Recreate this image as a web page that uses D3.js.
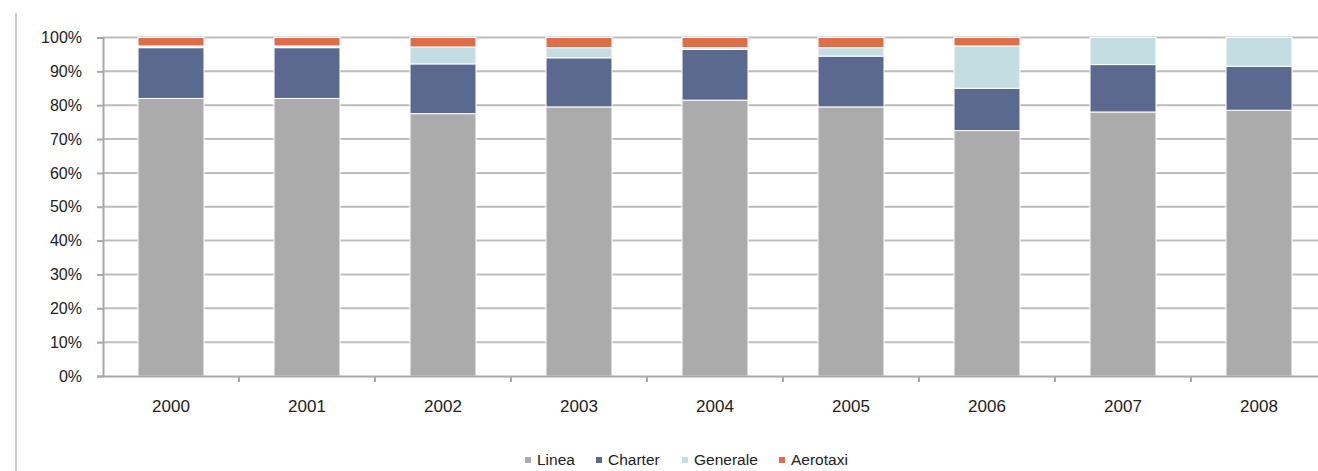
<!DOCTYPE html>
<html>
<head>
<meta charset="utf-8">
<script src="https://cdn.jsdelivr.net/npm/d3@7"></script>
<style>
  html, body { margin: 0; padding: 0; background: #fff; }
  svg { display: block; }
  text { font-family: "Liberation Sans", Arial, sans-serif; fill: #222; }
</style>
</head>
<body>
<svg id="chart" width="1318" height="471"></svg>
<script>
// Traffic share by type of flight, 2000–2008 (percent of total)
const years     = ["2000", "2001", "2002", "2003", "2004", "2005", "2006", "2007", "2008"];
const seriesNames = ["Linea", "Charter", "Generale", "Aerotaxi"];
const linea     = [82, 82, 77.5, 79.5, 81.5, 79.5, 72.5, 78, 78.5];
const charter   = [15, 15, 14.7, 14.5, 15, 15, 12.5, 14, 13];
const generale  = [0.5, 0.5, 5, 3, 0.5, 2.5, 12.5, 8, 8.5];
const aerotaxi  = [2.5, 2.5, 2.8, 3, 3, 3, 2.5, 0, 0];
const yTicks    = [0, 10, 20, 30, 40, 50, 60, 70, 80, 90, 100];
const colors    = ["#ababab", "#5a698d", "#c4dde2", "#de6e48"];

const rows = years.map((y, i) => ({
  year: y, Linea: linea[i], Charter: charter[i], Generale: generale[i], Aerotaxi: aerotaxi[i]
}));

const svg = d3.select("#chart");
const plotLeft = 103, plotTop = 37.5, plotBottom = 376;
const step = 136;

const x = d3.scaleBand().domain(years).range([plotLeft, plotLeft + step * years.length]).padding(0);
const y = d3.scaleLinear().domain([0, 100]).range([plotBottom, plotTop]);
const color = d3.scaleOrdinal().domain(seriesNames).range(colors);
const barW = x.bandwidth() * 0.485;

// outer frame line on the left
svg.append("line")
  .attr("x1", 16).attr("x2", 16).attr("y1", 13).attr("y2", 471)
  .attr("stroke", "#c9c9c9").attr("stroke-width", 2);

// horizontal gridlines
svg.append("g").selectAll("line")
  .data(yTicks.filter(d => d > 0))
  .join("line")
  .attr("x1", plotLeft).attr("x2", plotLeft + step * years.length)
  .attr("y1", d => y(d)).attr("y2", d => y(d))
  .attr("stroke", "#bdbdbd").attr("stroke-width", 2);

// stacked bars
const stack = d3.stack().keys(seriesNames);
const layers = stack(rows);
svg.append("g").selectAll("g")
  .data(layers)
  .join("g")
  .attr("fill", d => color(d.key))
  .selectAll("rect")
  .data(d => d.filter(s => s[1] - s[0] > 0))
  .join("rect")
  .attr("x", d => x(d.data.year) + (x.bandwidth() - barW) / 2)
  .attr("width", barW)
  .attr("y", d => y(d[1]))
  .attr("height", d => y(d[0]) - y(d[1]))
  .attr("stroke", "#ffffff")
  .attr("stroke-width", 1);

// y axis
const yAxis = svg.append("g")
  .attr("transform", `translate(${plotLeft},0)`)
  .call(d3.axisLeft(y).tickValues(yTicks).tickFormat(d => d + "%").tickSize(6).tickPadding(15));
yAxis.select(".domain").attr("stroke", "#a8a8a8").attr("stroke-width", 2);
yAxis.selectAll(".tick line").attr("stroke", "#a8a8a8").attr("stroke-width", 2);
yAxis.selectAll("text").attr("font-size", 16).attr("fill", "#222")
  .attr("font-family", "'Liberation Sans', Arial, sans-serif");

// x axis
const xAxis = svg.append("g")
  .attr("transform", `translate(0,${plotBottom})`)
  .call(d3.axisBottom(x).tickSize(0).tickPadding(24));
xAxis.select(".domain").attr("stroke", "#a8a8a8").attr("stroke-width", 2);
xAxis.selectAll("text").attr("font-size", 17).attr("fill", "#222")
  .attr("font-family", "'Liberation Sans', Arial, sans-serif");

// category separator ticks below the axis
svg.append("g").selectAll("line")
  .data(years.slice(1))
  .join("line")
  .attr("x1", d => x(d)).attr("x2", d => x(d))
  .attr("y1", plotBottom).attr("y2", plotBottom + 6)
  .attr("stroke", "#a8a8a8").attr("stroke-width", 2);

// legend
const legend = svg.append("g").attr("transform", "translate(0,460)");
const legendX = [525, 596, 682, 779];
seriesNames.forEach((name, i) => {
  const g = legend.append("g").attr("transform", `translate(${legendX[i]},0)`);
  g.append("rect").attr("x", 0).attr("y", -3).attr("width", 6).attr("height", 6).attr("fill", colors[i]);
  g.append("text").attr("x", 12).attr("y", 0).attr("dy", "0.35em")
    .attr("font-size", 15.5).text(name);
});
</script>
</body>
</html>
